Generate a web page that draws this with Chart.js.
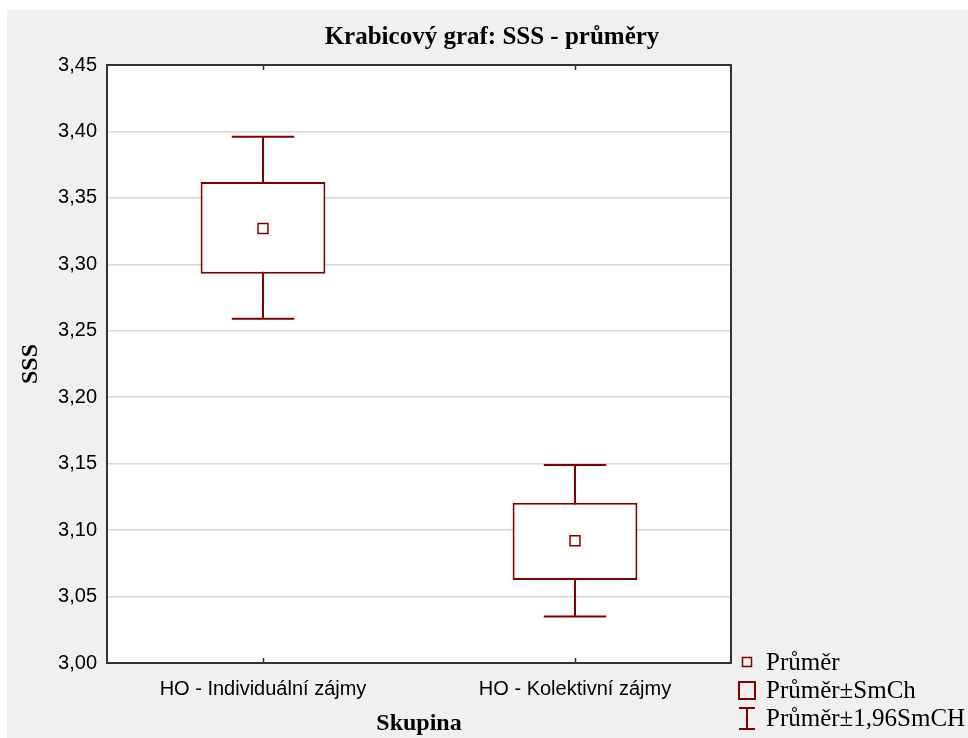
<!DOCTYPE html>
<html>
<head>
<meta charset="utf-8">
<script src="https://cdn.jsdelivr.net/npm/chart.js@4"></script>
<style>
  html, body { margin: 0; padding: 0; background: #ffffff; }
  #wrap { position: relative; width: 968px; height: 738px; overflow: hidden; }
  #bg { position: absolute; left: 7px; top: 10px; width: 961px; height: 728px; background: #f0f0f0; }
  canvas { position: absolute; left: 0; top: 0; }
</style>
</head>
<body>
<div id="wrap">
  <div id="bg"></div>
  <canvas id="c" width="968" height="738"></canvas>
</div>
<script>
// ---- data ----
const chartTitle = 'Krabicový graf: SSS - průměry';
const xTitle = 'Skupina';
const yTitle = 'SSS';
const categories = ['HO - Individuální zájmy', 'HO - Kolektivní zájmy'];
const means  = [3.327, 3.092];          // Průměr
const seLow  = [3.293, 3.0625];         // Průměr - SmCh
const seHigh = [3.362, 3.1205];         // Průměr + SmCh
const ciLow  = [3.259, 3.035];          // Průměr - 1,96SmCH
const ciHigh = [3.396, 3.149];          // Průměr + 1,96SmCH
const yTickValues = [3.00, 3.05, 3.10, 3.15, 3.20, 3.25, 3.30, 3.35, 3.40, 3.45];
const legendLabels = ['Průměr', 'Průměr±SmCh', 'Průměr±1,96SmCH'];

const RED = '#800000';
const SERIF = '"Liberation Serif", "Times New Roman", serif';
const SANS = '"Liberation Sans", Arial, sans-serif';

const plotBg = {
  id: 'plotBg',
  beforeDraw(chart) {
    const {ctx, chartArea: a} = chart;
    ctx.save();
    ctx.fillStyle = '#ffffff';
    ctx.fillRect(a.left, a.top, a.right - a.left, a.bottom - a.top);
    ctx.restore();
  },
  afterDraw(chart) {
    const {ctx, chartArea: a, scales} = chart;
    ctx.save();
    // top and right frame
    ctx.strokeStyle = '#333333';
    ctx.lineWidth = 2;
    ctx.beginPath();
    ctx.moveTo(a.left, a.top);
    ctx.lineTo(a.right, a.top);
    ctx.lineTo(a.right, a.bottom);
    ctx.stroke();
    // inner category ticks
    ctx.lineWidth = 1.5;
    categories.forEach((c, i) => {
      const x = Math.round(scales.x.getPixelForValue(i)) + 0.5;
      ctx.beginPath();
      ctx.moveTo(x, a.bottom); ctx.lineTo(x, a.bottom - 5);
      ctx.moveTo(x, a.top); ctx.lineTo(x, a.top + 5);
      ctx.stroke();
    });
    // title
    ctx.fillStyle = '#000000';
    ctx.font = 'bold 25px ' + SERIF;
    ctx.textAlign = 'center';
    ctx.textBaseline = 'middle';
    ctx.fillText(chartTitle, 492, 38);
    // legend
    const lx = a.right + 16, tx = a.right + 35;
    const rows = [a.bottom - 1, a.bottom + 27, a.bottom + 55];
    ctx.font = '25px ' + SERIF;
    ctx.textAlign = 'left';
    legendLabels.forEach((t, i) => {
      ctx.fillStyle = '#000000';
      ctx.fillText(t, tx, rows[i] + 1);
    });
    ctx.strokeStyle = RED;
    ctx.lineWidth = 1.5;
    ctx.strokeRect(lx - 4.5, rows[0] - 4.5, 9, 9);
    ctx.lineWidth = 2;
    ctx.strokeRect(lx - 8, rows[1] - 8, 16, 17);
    ctx.beginPath();
    ctx.moveTo(lx - 8, rows[2] - 10); ctx.lineTo(lx + 8, rows[2] - 10);
    ctx.moveTo(lx, rows[2] - 10); ctx.lineTo(lx, rows[2] + 11);
    ctx.moveTo(lx - 8, rows[2] + 11); ctx.lineTo(lx + 8, rows[2] + 11);
    ctx.stroke();
    ctx.restore();
  }
};

const whiskers = {
  id: 'whiskers',
  beforeDatasetsDraw(chart) {
    const {ctx, scales} = chart;
    const meta = chart.getDatasetMeta(0);
    ctx.save();
    ctx.strokeStyle = RED;
    ctx.lineWidth = 2;
    categories.forEach((c, i) => {
      const x = Math.round(scales.x.getPixelForValue(i));
      const half = meta.data[i].width / 4;
      const yl = scales.y.getPixelForValue(ciLow[i]);
      const yh = scales.y.getPixelForValue(ciHigh[i]);
      ctx.beginPath();
      ctx.moveTo(x, yl); ctx.lineTo(x, yh);
      ctx.moveTo(x - half, yl); ctx.lineTo(x + half, yl);
      ctx.moveTo(x - half, yh); ctx.lineTo(x + half, yh);
      ctx.stroke();
    });
    ctx.restore();
  }
};

new Chart(document.getElementById('c'), {
  data: {
    labels: categories,
    datasets: [
      {
        type: 'bar',
        label: legendLabels[1],
        data: seLow.map((l, i) => [l, seHigh[i]]),
        backgroundColor: '#ffffff',
        borderColor: RED,
        borderWidth: 2,
        borderSkipped: false,
        barPercentage: 0.4,
        categoryPercentage: 1.0,
        order: 2
      },
      {
        type: 'line',
        label: legendLabels[0],
        data: means,
        showLine: false,
        pointStyle: 'rect',
        pointRadius: 7,
        pointHoverRadius: 7,
        pointBorderWidth: 1.5,
        pointBackgroundColor: '#ffffff',
        pointBorderColor: RED,
        order: 0
      }
    ]
  },
  options: {
    responsive: false,
    animation: false,
    devicePixelRatio: 1,
    layout: { padding: { top: 65, right: 237, bottom: 0, left: 0 } },
    plugins: {
      legend: { display: false },
      title: { display: false },
      tooltip: { enabled: false }
    },
    scales: {
      x: {
        type: 'category',
        offset: true,
        grid: { display: false, drawTicks: false },
        border: { display: true, color: '#333333', width: 2 },
        ticks: { color: '#000000', font: { family: SANS, size: 20 }, padding: 14, maxRotation: 0 },
        title: { display: true, text: xTitle, color: '#000000', font: { family: SERIF, size: 24, weight: 'bold' }, padding: { top: 0, bottom: 0 } },
        afterFit(scale) { scale.height = 75; }
      },
      y: {
        type: 'linear',
        min: 3.0,
        max: 3.45,
        grid: { color: '#d8d8d8', lineWidth: 1.5, drawTicks: false },
        border: { display: true, color: '#333333', width: 2 },
        ticks: {
          color: '#000000',
          font: { family: SANS, size: 20 },
          padding: 10,
          callback: (v) => Number(v).toFixed(2).replace('.', ',')
        },
        afterBuildTicks(scale) { scale.ticks = yTickValues.map(v => ({ value: v })); },
        title: { display: true, text: yTitle, color: '#000000', font: { family: SERIF, size: 24, weight: 'bold' }, padding: { top: 16, bottom: 0 } },
        afterFit(scale) { scale.width = 107; }
      }
    }
  },
  plugins: [plotBg, whiskers]
});
</script>
</body>
</html>
